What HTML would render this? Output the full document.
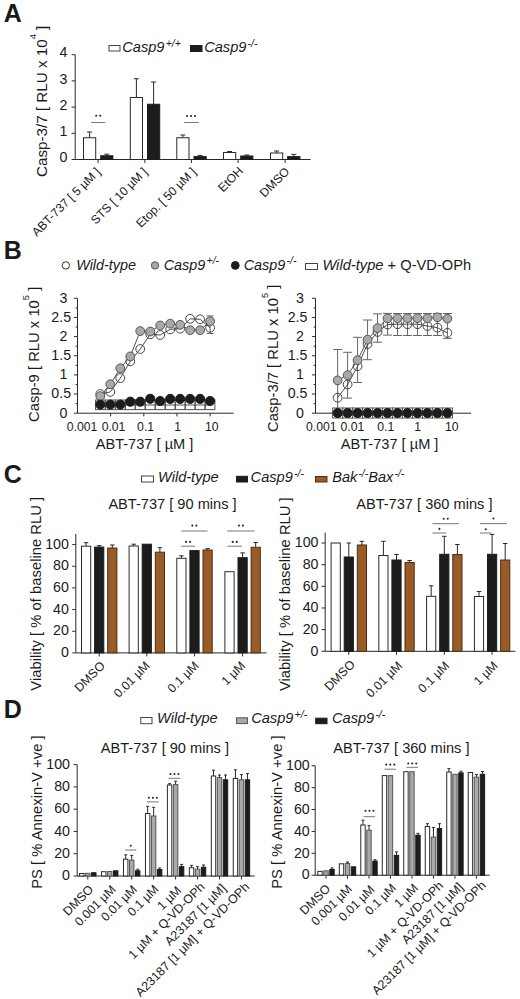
<!DOCTYPE html>
<html><head><meta charset="utf-8"><style>
html,body{margin:0;padding:0;background:#fff;}
svg{display:block;}
text{font-family:"Liberation Sans", sans-serif;fill:#1a1a1a;}
</style></head><body>
<svg width="520" height="999" viewBox="0 0 520 999">
<rect width="520" height="999" fill="#fff"/>
<text x="3.80" y="22.30" font-size="25" font-weight="bold" fill="#000">A</text>
<rect x="109.00" y="45.50" width="11.00" height="5.50" fill="#fff" stroke="#444" stroke-width="1"/>
<text x="122.30" y="52.00" font-size="14.6" font-style="italic">Casp9<tspan font-size="10.5" dx="1.2" dy="-5.5">+/+</tspan></text>
<rect x="190.50" y="45.50" width="11.50" height="6.00" fill="#1c1c1c" stroke="#1c1c1c" stroke-width="1"/>
<text x="204.20" y="52.00" font-size="14.6" font-style="italic">Casp9<tspan font-size="10.5" dx="1.2" dy="-5.5">-/-</tspan></text>
<line x1="75.20" y1="54.70" x2="75.20" y2="160.00" stroke="#2a2a2a" stroke-width="1"/>
<line x1="71.60" y1="159.50" x2="75.20" y2="159.50" stroke="#2a2a2a" stroke-width="1"/>
<text x="67.50" y="162.10" font-size="14.2" text-anchor="end">0</text>
<line x1="71.60" y1="133.30" x2="75.20" y2="133.30" stroke="#2a2a2a" stroke-width="1"/>
<text x="67.50" y="135.90" font-size="14.2" text-anchor="end">1</text>
<line x1="71.60" y1="107.10" x2="75.20" y2="107.10" stroke="#2a2a2a" stroke-width="1"/>
<text x="67.50" y="109.70" font-size="14.2" text-anchor="end">2</text>
<line x1="71.60" y1="80.90" x2="75.20" y2="80.90" stroke="#2a2a2a" stroke-width="1"/>
<text x="67.50" y="83.50" font-size="14.2" text-anchor="end">3</text>
<line x1="71.60" y1="54.70" x2="75.20" y2="54.70" stroke="#2a2a2a" stroke-width="1"/>
<text x="67.50" y="57.30" font-size="14.2" text-anchor="end">4</text>
<line x1="75.20" y1="159.50" x2="310.60" y2="159.50" stroke="#2a2a2a" stroke-width="1"/>
<line x1="98.10" y1="159.50" x2="98.10" y2="163.00" stroke="#2a2a2a" stroke-width="1"/>
<line x1="144.90" y1="159.50" x2="144.90" y2="163.00" stroke="#2a2a2a" stroke-width="1"/>
<line x1="191.40" y1="159.50" x2="191.40" y2="163.00" stroke="#2a2a2a" stroke-width="1"/>
<line x1="238.10" y1="159.50" x2="238.10" y2="163.00" stroke="#2a2a2a" stroke-width="1"/>
<line x1="285.10" y1="159.50" x2="285.10" y2="163.00" stroke="#2a2a2a" stroke-width="1"/>
<line x1="89.60" y1="137.75" x2="89.60" y2="132.00" stroke="#2a2a2a" stroke-width="1"/>
<line x1="87.10" y1="132.00" x2="92.10" y2="132.00" stroke="#2a2a2a" stroke-width="1"/>
<rect x="83.50" y="137.75" width="12.20" height="21.75" fill="#fff" stroke="#2a2a2a" stroke-width="1"/>
<line x1="106.80" y1="155.75" x2="106.80" y2="154.20" stroke="#2a2a2a" stroke-width="1"/>
<line x1="104.30" y1="154.20" x2="109.30" y2="154.20" stroke="#2a2a2a" stroke-width="1"/>
<rect x="100.70" y="155.75" width="12.20" height="3.75" fill="#1c1c1c" stroke="#1c1c1c" stroke-width="1"/>
<line x1="136.40" y1="97.50" x2="136.40" y2="78.75" stroke="#2a2a2a" stroke-width="1"/>
<line x1="133.90" y1="78.75" x2="138.90" y2="78.75" stroke="#2a2a2a" stroke-width="1"/>
<rect x="130.30" y="97.50" width="12.20" height="62.00" fill="#fff" stroke="#2a2a2a" stroke-width="1"/>
<line x1="153.60" y1="104.25" x2="153.60" y2="82.00" stroke="#2a2a2a" stroke-width="1"/>
<line x1="151.10" y1="82.00" x2="156.10" y2="82.00" stroke="#2a2a2a" stroke-width="1"/>
<rect x="147.50" y="104.25" width="12.20" height="55.25" fill="#1c1c1c" stroke="#1c1c1c" stroke-width="1"/>
<line x1="182.90" y1="137.75" x2="182.90" y2="135.00" stroke="#2a2a2a" stroke-width="1"/>
<line x1="180.40" y1="135.00" x2="185.40" y2="135.00" stroke="#2a2a2a" stroke-width="1"/>
<rect x="176.80" y="137.75" width="12.20" height="21.75" fill="#fff" stroke="#2a2a2a" stroke-width="1"/>
<line x1="200.10" y1="156.60" x2="200.10" y2="155.40" stroke="#2a2a2a" stroke-width="1"/>
<line x1="197.60" y1="155.40" x2="202.60" y2="155.40" stroke="#2a2a2a" stroke-width="1"/>
<rect x="194.00" y="156.60" width="12.20" height="2.90" fill="#1c1c1c" stroke="#1c1c1c" stroke-width="1"/>
<line x1="229.60" y1="152.50" x2="229.60" y2="151.50" stroke="#2a2a2a" stroke-width="1"/>
<line x1="227.10" y1="151.50" x2="232.10" y2="151.50" stroke="#2a2a2a" stroke-width="1"/>
<rect x="223.50" y="152.50" width="12.20" height="7.00" fill="#fff" stroke="#2a2a2a" stroke-width="1"/>
<line x1="246.80" y1="156.00" x2="246.80" y2="155.00" stroke="#2a2a2a" stroke-width="1"/>
<line x1="244.30" y1="155.00" x2="249.30" y2="155.00" stroke="#2a2a2a" stroke-width="1"/>
<rect x="240.70" y="156.00" width="12.20" height="3.50" fill="#1c1c1c" stroke="#1c1c1c" stroke-width="1"/>
<line x1="276.60" y1="153.00" x2="276.60" y2="151.00" stroke="#2a2a2a" stroke-width="1"/>
<line x1="274.10" y1="151.00" x2="279.10" y2="151.00" stroke="#2a2a2a" stroke-width="1"/>
<rect x="270.50" y="153.00" width="12.20" height="6.50" fill="#fff" stroke="#2a2a2a" stroke-width="1"/>
<line x1="293.80" y1="156.60" x2="293.80" y2="154.40" stroke="#2a2a2a" stroke-width="1"/>
<line x1="291.30" y1="154.40" x2="296.30" y2="154.40" stroke="#2a2a2a" stroke-width="1"/>
<rect x="287.70" y="156.60" width="12.20" height="2.90" fill="#1c1c1c" stroke="#1c1c1c" stroke-width="1"/>
<line x1="91.20" y1="122.50" x2="105.40" y2="122.50" stroke="#777" stroke-width="1"/>
<circle cx="96.20" cy="115.70" r="1.05" fill="#2a2a2a"/>
<circle cx="100.20" cy="115.70" r="1.05" fill="#2a2a2a"/>
<line x1="184.20" y1="122.50" x2="198.80" y2="122.50" stroke="#777" stroke-width="1"/>
<circle cx="187.00" cy="116.10" r="1.05" fill="#2a2a2a"/>
<circle cx="191.00" cy="116.10" r="1.05" fill="#2a2a2a"/>
<circle cx="195.00" cy="116.10" r="1.05" fill="#2a2a2a"/>
<text id="yl1" transform="translate(46.70 101.30) rotate(-90)" font-size="15.2" text-anchor="middle">Casp-3/7 [ RLU x 10<tspan font-size="9.4" dy="-10.3">4</tspan><tspan dy="10.3"> ]</tspan></text>
<text id="a0" x="101.04" y="172.54" font-size="12.1" text-anchor="end" transform="rotate(-45 101.04 172.54)">ABT-737 [ 5 µM ]</text>
<text id="a1" x="148.16" y="172.54" font-size="12.1" text-anchor="end" transform="rotate(-45 148.16 172.54)">STS [ 10 µM ]</text>
<text id="a2" x="196.90" y="172.54" font-size="12.1" text-anchor="end" transform="rotate(-45 196.90 172.54)">Etop. [ 50 µM ]</text>
<text id="a3" x="243.92" y="171.74" font-size="12.1" text-anchor="end" transform="rotate(-45 243.92 171.74)">EtOH</text>
<text id="a4" x="290.28" y="172.22" font-size="12.1" text-anchor="end" transform="rotate(-45 290.28 172.22)">DMSO</text>
<text x="3.80" y="259.10" font-size="25" font-weight="bold" fill="#000">B</text>
<circle cx="65.80" cy="265.40" r="3.7" fill="#fff" stroke="#333" stroke-width="1"/>
<text x="76.20" y="269.80" font-size="14.4" font-style="italic">Wild-type</text>
<circle cx="155.00" cy="265.40" r="3.7" fill="#a9a9a9" stroke="#555" stroke-width="1"/>
<text x="163.70" y="269.80" font-size="14.4" font-style="italic">Casp9<tspan font-size="10.5" dx="1.2" dy="-5.5">+/-</tspan></text>
<circle cx="235.30" cy="265.40" r="3.9" fill="#1c1c1c" stroke="#1c1c1c" stroke-width="1"/>
<text x="243.70" y="269.80" font-size="14.4" font-style="italic">Casp9<tspan font-size="10.5" dx="1.2" dy="-5.5">-/-</tspan></text>
<rect x="305.50" y="263.50" width="12.00" height="6.00" fill="#fff" stroke="#444" stroke-width="1"/>
<text x="322.4" y="269.8" font-size="14.7"><tspan font-style="italic">Wild-type</tspan> + Q-VD-OPh</text>
<line x1="77.50" y1="298.30" x2="77.50" y2="413.20" stroke="#2a2a2a" stroke-width="1"/>
<line x1="73.90" y1="413.20" x2="77.50" y2="413.20" stroke="#2a2a2a" stroke-width="1"/>
<text x="67.50" y="417.50" font-size="14.2" text-anchor="end">0</text>
<line x1="75.60" y1="403.62" x2="77.50" y2="403.62" stroke="#2a2a2a" stroke-width="1"/>
<line x1="73.90" y1="394.05" x2="77.50" y2="394.05" stroke="#2a2a2a" stroke-width="1"/>
<text x="71.10" y="398.35" font-size="14.2" text-anchor="end">0.5</text>
<line x1="75.60" y1="384.48" x2="77.50" y2="384.48" stroke="#2a2a2a" stroke-width="1"/>
<line x1="73.90" y1="374.90" x2="77.50" y2="374.90" stroke="#2a2a2a" stroke-width="1"/>
<text x="67.50" y="379.20" font-size="14.2" text-anchor="end">1</text>
<line x1="75.60" y1="365.32" x2="77.50" y2="365.32" stroke="#2a2a2a" stroke-width="1"/>
<line x1="73.90" y1="355.75" x2="77.50" y2="355.75" stroke="#2a2a2a" stroke-width="1"/>
<text x="71.10" y="360.05" font-size="14.2" text-anchor="end">1.5</text>
<line x1="75.60" y1="346.18" x2="77.50" y2="346.18" stroke="#2a2a2a" stroke-width="1"/>
<line x1="73.90" y1="336.60" x2="77.50" y2="336.60" stroke="#2a2a2a" stroke-width="1"/>
<text x="67.50" y="340.90" font-size="14.2" text-anchor="end">2</text>
<line x1="75.60" y1="327.02" x2="77.50" y2="327.02" stroke="#2a2a2a" stroke-width="1"/>
<line x1="73.90" y1="317.45" x2="77.50" y2="317.45" stroke="#2a2a2a" stroke-width="1"/>
<text x="71.10" y="321.75" font-size="14.2" text-anchor="end">2.5</text>
<line x1="75.60" y1="307.88" x2="77.50" y2="307.88" stroke="#2a2a2a" stroke-width="1"/>
<line x1="73.90" y1="298.30" x2="77.50" y2="298.30" stroke="#2a2a2a" stroke-width="1"/>
<text x="67.50" y="302.60" font-size="14.2" text-anchor="end">3</text>
<line x1="77.50" y1="413.20" x2="233.70" y2="413.20" stroke="#2a2a2a" stroke-width="1"/>
<line x1="110.65" y1="413.20" x2="110.65" y2="416.40" stroke="#2a2a2a" stroke-width="1"/>
<line x1="143.80" y1="413.20" x2="143.80" y2="416.40" stroke="#2a2a2a" stroke-width="1"/>
<line x1="176.95" y1="413.20" x2="176.95" y2="416.40" stroke="#2a2a2a" stroke-width="1"/>
<line x1="210.10" y1="413.20" x2="210.10" y2="416.40" stroke="#2a2a2a" stroke-width="1"/>
<text x="82.00" y="431.30" font-size="12.2" text-anchor="middle">0.001</text>
<text x="113.50" y="431.30" font-size="12.2" text-anchor="middle">0.01</text>
<text x="145.60" y="431.30" font-size="12.2" text-anchor="middle">0.1</text>
<text x="177.70" y="431.30" font-size="12.2" text-anchor="middle">1</text>
<text x="211.70" y="431.30" font-size="12.2" text-anchor="middle">10</text>
<text x="144.50" y="449.40" font-size="14.6" text-anchor="middle">ABT-737 [ µM ]</text>
<text id="yl2" transform="translate(39.10 354.30) rotate(-90)" font-size="14.8" text-anchor="middle">Casp-9 [ RLU x 10<tspan font-size="9.4" dy="-10.3">5</tspan><tspan dy="10.3"> ]</tspan></text>
<line x1="315.50" y1="298.30" x2="315.50" y2="413.20" stroke="#2a2a2a" stroke-width="1"/>
<line x1="311.90" y1="413.20" x2="315.50" y2="413.20" stroke="#2a2a2a" stroke-width="1"/>
<text x="303.80" y="417.50" font-size="14.2" text-anchor="end">0</text>
<line x1="313.60" y1="403.62" x2="315.50" y2="403.62" stroke="#2a2a2a" stroke-width="1"/>
<line x1="311.90" y1="394.05" x2="315.50" y2="394.05" stroke="#2a2a2a" stroke-width="1"/>
<text x="307.40" y="398.35" font-size="14.2" text-anchor="end">0.5</text>
<line x1="313.60" y1="384.48" x2="315.50" y2="384.48" stroke="#2a2a2a" stroke-width="1"/>
<line x1="311.90" y1="374.90" x2="315.50" y2="374.90" stroke="#2a2a2a" stroke-width="1"/>
<text x="303.80" y="379.20" font-size="14.2" text-anchor="end">1</text>
<line x1="313.60" y1="365.32" x2="315.50" y2="365.32" stroke="#2a2a2a" stroke-width="1"/>
<line x1="311.90" y1="355.75" x2="315.50" y2="355.75" stroke="#2a2a2a" stroke-width="1"/>
<text x="307.40" y="360.05" font-size="14.2" text-anchor="end">1.5</text>
<line x1="313.60" y1="346.18" x2="315.50" y2="346.18" stroke="#2a2a2a" stroke-width="1"/>
<line x1="311.90" y1="336.60" x2="315.50" y2="336.60" stroke="#2a2a2a" stroke-width="1"/>
<text x="303.80" y="340.90" font-size="14.2" text-anchor="end">2</text>
<line x1="313.60" y1="327.02" x2="315.50" y2="327.02" stroke="#2a2a2a" stroke-width="1"/>
<line x1="311.90" y1="317.45" x2="315.50" y2="317.45" stroke="#2a2a2a" stroke-width="1"/>
<text x="307.40" y="321.75" font-size="14.2" text-anchor="end">2.5</text>
<line x1="313.60" y1="307.88" x2="315.50" y2="307.88" stroke="#2a2a2a" stroke-width="1"/>
<line x1="311.90" y1="298.30" x2="315.50" y2="298.30" stroke="#2a2a2a" stroke-width="1"/>
<text x="303.80" y="302.60" font-size="14.2" text-anchor="end">3</text>
<line x1="315.50" y1="413.20" x2="471.00" y2="413.20" stroke="#2a2a2a" stroke-width="1"/>
<line x1="348.65" y1="413.20" x2="348.65" y2="416.40" stroke="#2a2a2a" stroke-width="1"/>
<line x1="381.80" y1="413.20" x2="381.80" y2="416.40" stroke="#2a2a2a" stroke-width="1"/>
<line x1="414.95" y1="413.20" x2="414.95" y2="416.40" stroke="#2a2a2a" stroke-width="1"/>
<line x1="448.10" y1="413.20" x2="448.10" y2="416.40" stroke="#2a2a2a" stroke-width="1"/>
<text x="321.30" y="431.30" font-size="12.2" text-anchor="middle">0.001</text>
<text x="352.40" y="431.30" font-size="12.2" text-anchor="middle">0.01</text>
<text x="385.70" y="431.30" font-size="12.2" text-anchor="middle">0.1</text>
<text x="417.70" y="431.30" font-size="12.2" text-anchor="middle">1</text>
<text x="451.70" y="431.30" font-size="12.2" text-anchor="middle">10</text>
<text x="389.60" y="449.40" font-size="14.6" text-anchor="middle">ABT-737 [ µM ]</text>
<text id="yl3" transform="translate(278.00 358.30) rotate(-90)" font-size="14.8" text-anchor="middle">Casp-3/7 [ RLU x 10<tspan font-size="9.4" dy="-10.3">5</tspan><tspan dy="10.3"> ]</tspan></text>
<rect x="205.30" y="400.00" width="9.60" height="9.60" fill="#fff" stroke="#555" stroke-width="1"/>
<rect x="195.32" y="400.00" width="9.60" height="9.60" fill="#fff" stroke="#555" stroke-width="1"/>
<rect x="185.34" y="400.00" width="9.60" height="9.60" fill="#fff" stroke="#555" stroke-width="1"/>
<rect x="175.36" y="400.00" width="9.60" height="9.60" fill="#fff" stroke="#555" stroke-width="1"/>
<rect x="165.38" y="400.00" width="9.60" height="9.60" fill="#fff" stroke="#555" stroke-width="1"/>
<rect x="155.40" y="400.00" width="9.60" height="9.60" fill="#fff" stroke="#555" stroke-width="1"/>
<rect x="145.43" y="400.00" width="9.60" height="9.60" fill="#fff" stroke="#555" stroke-width="1"/>
<rect x="135.45" y="400.00" width="9.60" height="9.60" fill="#fff" stroke="#555" stroke-width="1"/>
<rect x="125.47" y="400.00" width="9.60" height="9.60" fill="#fff" stroke="#555" stroke-width="1"/>
<rect x="115.49" y="400.00" width="9.60" height="9.60" fill="#fff" stroke="#555" stroke-width="1"/>
<rect x="105.51" y="400.00" width="9.60" height="9.60" fill="#fff" stroke="#555" stroke-width="1"/>
<rect x="95.53" y="400.00" width="9.60" height="9.60" fill="#fff" stroke="#555" stroke-width="1"/>
<polyline fill="none" stroke="#3a3a3a" stroke-width="0.9" points="210.1,405.0 200.1,405.0 190.1,405.0 180.2,405.0 170.2,405.0 160.2,405.0 150.2,405.0 140.2,405.0 130.3,405.0 120.3,405.0 110.3,405.0 100.3,405.0"/>
<line x1="210.10" y1="315.90" x2="210.10" y2="333.50" stroke="#666" stroke-width="1"/>
<line x1="206.60" y1="315.90" x2="213.60" y2="315.90" stroke="#666" stroke-width="1"/>
<line x1="206.60" y1="333.50" x2="213.60" y2="333.50" stroke="#666" stroke-width="1"/>
<polyline fill="none" stroke="#3a3a3a" stroke-width="0.9" points="210.1,327.8 200.1,319.3 190.1,318.8 180.2,328.6 170.2,329.4 160.2,335.0 150.2,334.3 140.2,349.0 130.3,361.3 120.3,378.1 110.3,391.9 100.3,394.0"/>
<polyline fill="none" stroke="#3a3a3a" stroke-width="0.9" points="210.1,321.2 200.1,330.2 190.1,330.2 180.2,324.8 170.2,323.7 160.2,325.5 150.2,331.5 140.2,331.1 130.3,356.4 120.3,368.3 110.3,384.2 100.3,396.1"/>
<circle cx="210.10" cy="327.80" r="4.4" fill="none" stroke="#444" stroke-width="1"/>
<circle cx="200.12" cy="319.30" r="4.4" fill="none" stroke="#444" stroke-width="1"/>
<circle cx="190.14" cy="318.80" r="4.4" fill="none" stroke="#444" stroke-width="1"/>
<circle cx="180.16" cy="328.60" r="4.4" fill="none" stroke="#444" stroke-width="1"/>
<circle cx="170.18" cy="329.40" r="4.4" fill="none" stroke="#444" stroke-width="1"/>
<circle cx="160.20" cy="335.00" r="4.4" fill="none" stroke="#444" stroke-width="1"/>
<circle cx="150.23" cy="334.30" r="4.4" fill="none" stroke="#444" stroke-width="1"/>
<circle cx="140.25" cy="349.00" r="4.4" fill="none" stroke="#444" stroke-width="1"/>
<circle cx="130.27" cy="361.30" r="4.4" fill="none" stroke="#444" stroke-width="1"/>
<circle cx="120.29" cy="378.10" r="4.4" fill="none" stroke="#444" stroke-width="1"/>
<circle cx="110.31" cy="391.90" r="4.4" fill="none" stroke="#444" stroke-width="1"/>
<circle cx="100.33" cy="394.00" r="4.4" fill="none" stroke="#444" stroke-width="1"/>
<circle cx="210.10" cy="321.20" r="4.4" fill="#a9a9a9" stroke="#555" stroke-width="1"/>
<circle cx="200.12" cy="330.20" r="4.4" fill="#a9a9a9" stroke="#555" stroke-width="1"/>
<circle cx="190.14" cy="330.20" r="4.4" fill="#a9a9a9" stroke="#555" stroke-width="1"/>
<circle cx="180.16" cy="324.80" r="4.4" fill="#a9a9a9" stroke="#555" stroke-width="1"/>
<circle cx="170.18" cy="323.70" r="4.4" fill="#a9a9a9" stroke="#555" stroke-width="1"/>
<circle cx="160.20" cy="325.50" r="4.4" fill="#a9a9a9" stroke="#555" stroke-width="1"/>
<circle cx="150.23" cy="331.50" r="4.4" fill="#a9a9a9" stroke="#555" stroke-width="1"/>
<circle cx="140.25" cy="331.10" r="4.4" fill="#a9a9a9" stroke="#555" stroke-width="1"/>
<circle cx="130.27" cy="356.40" r="4.4" fill="#a9a9a9" stroke="#555" stroke-width="1"/>
<circle cx="120.29" cy="368.30" r="4.4" fill="#a9a9a9" stroke="#555" stroke-width="1"/>
<circle cx="110.31" cy="384.20" r="4.4" fill="#a9a9a9" stroke="#555" stroke-width="1"/>
<circle cx="100.33" cy="396.10" r="4.4" fill="#a9a9a9" stroke="#555" stroke-width="1"/>
<circle cx="210.10" cy="401.00" r="4.6" fill="#1c1c1c" stroke="#1c1c1c" stroke-width="1"/>
<circle cx="200.12" cy="398.90" r="4.6" fill="#1c1c1c" stroke="#1c1c1c" stroke-width="1"/>
<circle cx="190.14" cy="398.90" r="4.6" fill="#1c1c1c" stroke="#1c1c1c" stroke-width="1"/>
<circle cx="180.16" cy="398.90" r="4.6" fill="#1c1c1c" stroke="#1c1c1c" stroke-width="1"/>
<circle cx="170.18" cy="398.90" r="4.6" fill="#1c1c1c" stroke="#1c1c1c" stroke-width="1"/>
<circle cx="160.20" cy="401.00" r="4.6" fill="#1c1c1c" stroke="#1c1c1c" stroke-width="1"/>
<circle cx="150.23" cy="398.80" r="4.6" fill="#1c1c1c" stroke="#1c1c1c" stroke-width="1"/>
<circle cx="140.25" cy="401.70" r="4.6" fill="#1c1c1c" stroke="#1c1c1c" stroke-width="1"/>
<circle cx="130.27" cy="401.70" r="4.6" fill="#1c1c1c" stroke="#1c1c1c" stroke-width="1"/>
<circle cx="120.29" cy="404.60" r="4.6" fill="#1c1c1c" stroke="#1c1c1c" stroke-width="1"/>
<circle cx="110.31" cy="404.60" r="4.6" fill="#1c1c1c" stroke="#1c1c1c" stroke-width="1"/>
<circle cx="100.33" cy="404.60" r="4.6" fill="#1c1c1c" stroke="#1c1c1c" stroke-width="1"/>
<line x1="447.40" y1="313.50" x2="447.40" y2="338.40" stroke="#666" stroke-width="1"/>
<line x1="442.90" y1="313.50" x2="451.90" y2="313.50" stroke="#666" stroke-width="1"/>
<line x1="442.90" y1="338.40" x2="451.90" y2="338.40" stroke="#666" stroke-width="1"/>
<line x1="437.42" y1="313.50" x2="437.42" y2="335.50" stroke="#666" stroke-width="1"/>
<line x1="432.92" y1="313.50" x2="441.92" y2="313.50" stroke="#666" stroke-width="1"/>
<line x1="432.92" y1="335.50" x2="441.92" y2="335.50" stroke="#666" stroke-width="1"/>
<line x1="427.44" y1="313.50" x2="427.44" y2="335.50" stroke="#666" stroke-width="1"/>
<line x1="422.94" y1="313.50" x2="431.94" y2="313.50" stroke="#666" stroke-width="1"/>
<line x1="422.94" y1="335.50" x2="431.94" y2="335.50" stroke="#666" stroke-width="1"/>
<line x1="417.46" y1="313.50" x2="417.46" y2="335.50" stroke="#666" stroke-width="1"/>
<line x1="412.96" y1="313.50" x2="421.96" y2="313.50" stroke="#666" stroke-width="1"/>
<line x1="412.96" y1="335.50" x2="421.96" y2="335.50" stroke="#666" stroke-width="1"/>
<line x1="407.48" y1="313.50" x2="407.48" y2="335.50" stroke="#666" stroke-width="1"/>
<line x1="402.98" y1="313.50" x2="411.98" y2="313.50" stroke="#666" stroke-width="1"/>
<line x1="402.98" y1="335.50" x2="411.98" y2="335.50" stroke="#666" stroke-width="1"/>
<line x1="397.50" y1="313.50" x2="397.50" y2="335.50" stroke="#666" stroke-width="1"/>
<line x1="393.00" y1="313.50" x2="402.00" y2="313.50" stroke="#666" stroke-width="1"/>
<line x1="393.00" y1="335.50" x2="402.00" y2="335.50" stroke="#666" stroke-width="1"/>
<line x1="387.53" y1="313.40" x2="387.53" y2="335.10" stroke="#666" stroke-width="1"/>
<line x1="383.03" y1="313.40" x2="392.03" y2="313.40" stroke="#666" stroke-width="1"/>
<line x1="383.03" y1="335.10" x2="392.03" y2="335.10" stroke="#666" stroke-width="1"/>
<line x1="377.55" y1="313.90" x2="377.55" y2="342.20" stroke="#666" stroke-width="1"/>
<line x1="373.05" y1="313.90" x2="382.05" y2="313.90" stroke="#666" stroke-width="1"/>
<line x1="373.05" y1="342.20" x2="382.05" y2="342.20" stroke="#666" stroke-width="1"/>
<line x1="367.57" y1="320.00" x2="367.57" y2="359.70" stroke="#666" stroke-width="1"/>
<line x1="363.07" y1="320.00" x2="372.07" y2="320.00" stroke="#666" stroke-width="1"/>
<line x1="363.07" y1="359.70" x2="372.07" y2="359.70" stroke="#666" stroke-width="1"/>
<line x1="357.59" y1="337.30" x2="357.59" y2="382.50" stroke="#666" stroke-width="1"/>
<line x1="353.09" y1="337.30" x2="362.09" y2="337.30" stroke="#666" stroke-width="1"/>
<line x1="353.09" y1="382.50" x2="362.09" y2="382.50" stroke="#666" stroke-width="1"/>
<line x1="347.61" y1="352.30" x2="347.61" y2="398.10" stroke="#666" stroke-width="1"/>
<line x1="343.11" y1="352.30" x2="352.11" y2="352.30" stroke="#666" stroke-width="1"/>
<line x1="343.11" y1="398.10" x2="352.11" y2="398.10" stroke="#666" stroke-width="1"/>
<line x1="337.63" y1="349.50" x2="337.63" y2="411.00" stroke="#666" stroke-width="1"/>
<line x1="333.13" y1="349.50" x2="342.13" y2="349.50" stroke="#666" stroke-width="1"/>
<line x1="333.13" y1="411.00" x2="342.13" y2="411.00" stroke="#666" stroke-width="1"/>
<rect x="442.40" y="408.00" width="10.00" height="10.00" fill="#fff" stroke="#555" stroke-width="1"/>
<rect x="432.42" y="408.00" width="10.00" height="10.00" fill="#fff" stroke="#555" stroke-width="1"/>
<rect x="422.44" y="408.00" width="10.00" height="10.00" fill="#fff" stroke="#555" stroke-width="1"/>
<rect x="412.46" y="408.00" width="10.00" height="10.00" fill="#fff" stroke="#555" stroke-width="1"/>
<rect x="402.48" y="408.00" width="10.00" height="10.00" fill="#fff" stroke="#555" stroke-width="1"/>
<rect x="392.50" y="408.00" width="10.00" height="10.00" fill="#fff" stroke="#555" stroke-width="1"/>
<rect x="382.53" y="408.00" width="10.00" height="10.00" fill="#fff" stroke="#555" stroke-width="1"/>
<rect x="372.55" y="408.00" width="10.00" height="10.00" fill="#fff" stroke="#555" stroke-width="1"/>
<rect x="362.57" y="408.00" width="10.00" height="10.00" fill="#fff" stroke="#555" stroke-width="1"/>
<rect x="352.59" y="408.00" width="10.00" height="10.00" fill="#fff" stroke="#555" stroke-width="1"/>
<rect x="342.61" y="408.00" width="10.00" height="10.00" fill="#fff" stroke="#555" stroke-width="1"/>
<rect x="332.63" y="408.00" width="10.00" height="10.00" fill="#fff" stroke="#555" stroke-width="1"/>
<polyline fill="none" stroke="#3a3a3a" stroke-width="0.9" points="447.4,332.9 437.4,327.7 427.4,326.0 417.5,324.2 407.5,324.2 397.5,324.2 387.5,324.5 377.5,331.9 367.6,344.1 357.6,366.2 347.6,384.5 337.6,397.7"/>
<polyline fill="none" stroke="#3a3a3a" stroke-width="0.9" points="447.4,318.7 437.4,317.3 427.4,318.2 417.5,318.2 407.5,318.2 397.5,318.2 387.5,318.3 377.5,328.1 367.6,339.7 357.6,360.2 347.6,375.2 337.6,380.4"/>
<circle cx="447.40" cy="332.90" r="4.4" fill="none" stroke="#444" stroke-width="1"/>
<circle cx="437.42" cy="327.70" r="4.4" fill="none" stroke="#444" stroke-width="1"/>
<circle cx="427.44" cy="326.00" r="4.4" fill="none" stroke="#444" stroke-width="1"/>
<circle cx="417.46" cy="324.20" r="4.4" fill="none" stroke="#444" stroke-width="1"/>
<circle cx="407.48" cy="324.20" r="4.4" fill="none" stroke="#444" stroke-width="1"/>
<circle cx="397.50" cy="324.20" r="4.4" fill="none" stroke="#444" stroke-width="1"/>
<circle cx="387.53" cy="324.50" r="4.4" fill="none" stroke="#444" stroke-width="1"/>
<circle cx="377.55" cy="331.90" r="4.4" fill="none" stroke="#444" stroke-width="1"/>
<circle cx="367.57" cy="344.10" r="4.4" fill="none" stroke="#444" stroke-width="1"/>
<circle cx="357.59" cy="366.20" r="4.4" fill="none" stroke="#444" stroke-width="1"/>
<circle cx="347.61" cy="384.50" r="4.4" fill="none" stroke="#444" stroke-width="1"/>
<circle cx="337.63" cy="397.70" r="4.4" fill="none" stroke="#444" stroke-width="1"/>
<circle cx="447.40" cy="318.70" r="4.4" fill="#a9a9a9" stroke="#555" stroke-width="1"/>
<circle cx="437.42" cy="317.30" r="4.4" fill="#a9a9a9" stroke="#555" stroke-width="1"/>
<circle cx="427.44" cy="318.20" r="4.4" fill="#a9a9a9" stroke="#555" stroke-width="1"/>
<circle cx="417.46" cy="318.20" r="4.4" fill="#a9a9a9" stroke="#555" stroke-width="1"/>
<circle cx="407.48" cy="318.20" r="4.4" fill="#a9a9a9" stroke="#555" stroke-width="1"/>
<circle cx="397.50" cy="318.20" r="4.4" fill="#a9a9a9" stroke="#555" stroke-width="1"/>
<circle cx="387.53" cy="318.30" r="4.4" fill="#a9a9a9" stroke="#555" stroke-width="1"/>
<circle cx="377.55" cy="328.10" r="4.4" fill="#a9a9a9" stroke="#555" stroke-width="1"/>
<circle cx="367.57" cy="339.70" r="4.4" fill="#a9a9a9" stroke="#555" stroke-width="1"/>
<circle cx="357.59" cy="360.20" r="4.4" fill="#a9a9a9" stroke="#555" stroke-width="1"/>
<circle cx="347.61" cy="375.20" r="4.4" fill="#a9a9a9" stroke="#555" stroke-width="1"/>
<circle cx="337.63" cy="380.40" r="4.4" fill="#a9a9a9" stroke="#555" stroke-width="1"/>
<circle cx="447.40" cy="413.00" r="4.6" fill="#1c1c1c" stroke="#1c1c1c" stroke-width="1"/>
<circle cx="437.42" cy="413.00" r="4.6" fill="#1c1c1c" stroke="#1c1c1c" stroke-width="1"/>
<circle cx="427.44" cy="413.00" r="4.6" fill="#1c1c1c" stroke="#1c1c1c" stroke-width="1"/>
<circle cx="417.46" cy="413.00" r="4.6" fill="#1c1c1c" stroke="#1c1c1c" stroke-width="1"/>
<circle cx="407.48" cy="413.00" r="4.6" fill="#1c1c1c" stroke="#1c1c1c" stroke-width="1"/>
<circle cx="397.50" cy="413.00" r="4.6" fill="#1c1c1c" stroke="#1c1c1c" stroke-width="1"/>
<circle cx="387.53" cy="413.00" r="4.6" fill="#1c1c1c" stroke="#1c1c1c" stroke-width="1"/>
<circle cx="377.55" cy="413.00" r="4.6" fill="#1c1c1c" stroke="#1c1c1c" stroke-width="1"/>
<circle cx="367.57" cy="413.00" r="4.6" fill="#1c1c1c" stroke="#1c1c1c" stroke-width="1"/>
<circle cx="357.59" cy="413.00" r="4.6" fill="#1c1c1c" stroke="#1c1c1c" stroke-width="1"/>
<circle cx="347.61" cy="413.00" r="4.6" fill="#1c1c1c" stroke="#1c1c1c" stroke-width="1"/>
<circle cx="337.63" cy="413.00" r="4.6" fill="#1c1c1c" stroke="#1c1c1c" stroke-width="1"/>
<text x="3.80" y="483.20" font-size="25" font-weight="bold" fill="#000">C</text>
<rect x="141.50" y="476.00" width="12.00" height="6.00" fill="#fff" stroke="#444" stroke-width="1"/>
<text x="158.00" y="482.20" font-size="14.6" font-style="italic">Wild-type</text>
<rect x="236.50" y="476.30" width="11.00" height="5.70" fill="#1c1c1c" stroke="#1c1c1c" stroke-width="1"/>
<text x="250.60" y="482.20" font-size="14.6" font-style="italic">Casp9<tspan font-size="10.5" dx="1.2" dy="-5.5">-/-</tspan></text>
<rect x="315.50" y="476.50" width="11.50" height="5.50" fill="#9b5b27" stroke="#4f2d12" stroke-width="1"/>
<text x="332.2" y="482.2" font-size="14.6" font-style="italic">Bak<tspan font-size="10.5" dx="1" dy="-5.5">-/-</tspan><tspan dy="5.5">Bax</tspan><tspan font-size="10.5" dx="1" dy="-5.5">-/-</tspan></text>
<line x1="75.80" y1="534.00" x2="75.80" y2="652.90" stroke="#2a2a2a" stroke-width="1"/>
<line x1="72.20" y1="652.90" x2="75.80" y2="652.90" stroke="#2a2a2a" stroke-width="1"/>
<text x="68.90" y="657.10" font-size="14.2" text-anchor="end">0</text>
<line x1="72.20" y1="631.24" x2="75.80" y2="631.24" stroke="#2a2a2a" stroke-width="1"/>
<text x="68.90" y="635.44" font-size="14.2" text-anchor="end">20</text>
<line x1="72.20" y1="609.58" x2="75.80" y2="609.58" stroke="#2a2a2a" stroke-width="1"/>
<text x="68.90" y="613.78" font-size="14.2" text-anchor="end">40</text>
<line x1="72.20" y1="587.92" x2="75.80" y2="587.92" stroke="#2a2a2a" stroke-width="1"/>
<text x="68.90" y="592.12" font-size="14.2" text-anchor="end">60</text>
<line x1="72.20" y1="566.26" x2="75.80" y2="566.26" stroke="#2a2a2a" stroke-width="1"/>
<text x="68.90" y="570.46" font-size="14.2" text-anchor="end">80</text>
<line x1="72.20" y1="544.60" x2="75.80" y2="544.60" stroke="#2a2a2a" stroke-width="1"/>
<text x="68.90" y="548.80" font-size="14.2" text-anchor="end">100</text>
<line x1="75.80" y1="652.90" x2="266.50" y2="652.90" stroke="#2a2a2a" stroke-width="1"/>
<line x1="99.20" y1="652.90" x2="99.20" y2="656.40" stroke="#2a2a2a" stroke-width="1"/>
<line x1="146.80" y1="652.90" x2="146.80" y2="656.40" stroke="#2a2a2a" stroke-width="1"/>
<line x1="194.50" y1="652.90" x2="194.50" y2="656.40" stroke="#2a2a2a" stroke-width="1"/>
<line x1="242.60" y1="652.90" x2="242.60" y2="656.40" stroke="#2a2a2a" stroke-width="1"/>
<text x="108.40" y="509.20" font-size="14.6">ABT-737 [ 90 mins ]</text>
<text id="yl4" transform="translate(40.90 593.80) rotate(-90)" font-size="14.8" text-anchor="middle">Viability [ % of baseline RLU ]</text>
<line x1="86.10" y1="546.20" x2="86.10" y2="542.70" stroke="#2a2a2a" stroke-width="1"/>
<line x1="83.85" y1="542.70" x2="88.35" y2="542.70" stroke="#2a2a2a" stroke-width="1"/>
<rect x="81.50" y="546.20" width="9.20" height="106.70" fill="#fff" stroke="#2a2a2a" stroke-width="1"/>
<line x1="99.20" y1="547.10" x2="99.20" y2="545.60" stroke="#2a2a2a" stroke-width="1"/>
<line x1="96.95" y1="545.60" x2="101.45" y2="545.60" stroke="#2a2a2a" stroke-width="1"/>
<rect x="94.60" y="547.10" width="9.20" height="105.80" fill="#1c1c1c" stroke="#1c1c1c" stroke-width="1"/>
<line x1="112.30" y1="548.00" x2="112.30" y2="545.00" stroke="#2a2a2a" stroke-width="1"/>
<line x1="110.05" y1="545.00" x2="114.55" y2="545.00" stroke="#2a2a2a" stroke-width="1"/>
<rect x="107.70" y="548.00" width="9.20" height="104.90" fill="#9b5b27" stroke="#4f2d12" stroke-width="1"/>
<line x1="133.70" y1="546.00" x2="133.70" y2="544.20" stroke="#2a2a2a" stroke-width="1"/>
<line x1="131.45" y1="544.20" x2="135.95" y2="544.20" stroke="#2a2a2a" stroke-width="1"/>
<rect x="129.10" y="546.00" width="9.20" height="106.90" fill="#fff" stroke="#2a2a2a" stroke-width="1"/>
<rect x="142.20" y="544.20" width="9.20" height="108.70" fill="#1c1c1c" stroke="#1c1c1c" stroke-width="1"/>
<line x1="159.90" y1="552.20" x2="159.90" y2="547.70" stroke="#2a2a2a" stroke-width="1"/>
<line x1="157.65" y1="547.70" x2="162.15" y2="547.70" stroke="#2a2a2a" stroke-width="1"/>
<rect x="155.30" y="552.20" width="9.20" height="100.70" fill="#9b5b27" stroke="#4f2d12" stroke-width="1"/>
<line x1="181.40" y1="558.30" x2="181.40" y2="555.80" stroke="#2a2a2a" stroke-width="1"/>
<line x1="179.15" y1="555.80" x2="183.65" y2="555.80" stroke="#2a2a2a" stroke-width="1"/>
<rect x="176.80" y="558.30" width="9.20" height="94.60" fill="#fff" stroke="#2a2a2a" stroke-width="1"/>
<rect x="189.90" y="550.60" width="9.20" height="102.30" fill="#1c1c1c" stroke="#1c1c1c" stroke-width="1"/>
<line x1="207.60" y1="550.00" x2="207.60" y2="548.70" stroke="#2a2a2a" stroke-width="1"/>
<line x1="205.35" y1="548.70" x2="209.85" y2="548.70" stroke="#2a2a2a" stroke-width="1"/>
<rect x="203.00" y="550.00" width="9.20" height="102.90" fill="#9b5b27" stroke="#4f2d12" stroke-width="1"/>
<rect x="224.90" y="571.70" width="9.20" height="81.20" fill="#fff" stroke="#2a2a2a" stroke-width="1"/>
<line x1="242.60" y1="557.70" x2="242.60" y2="552.90" stroke="#2a2a2a" stroke-width="1"/>
<line x1="240.35" y1="552.90" x2="244.85" y2="552.90" stroke="#2a2a2a" stroke-width="1"/>
<rect x="238.00" y="557.70" width="9.20" height="95.20" fill="#1c1c1c" stroke="#1c1c1c" stroke-width="1"/>
<line x1="255.70" y1="547.30" x2="255.70" y2="542.50" stroke="#2a2a2a" stroke-width="1"/>
<line x1="253.45" y1="542.50" x2="257.95" y2="542.50" stroke="#2a2a2a" stroke-width="1"/>
<rect x="251.10" y="547.30" width="9.20" height="105.60" fill="#9b5b27" stroke="#4f2d12" stroke-width="1"/>
<line x1="181.20" y1="546.20" x2="195.00" y2="546.20" stroke="#777" stroke-width="1"/>
<circle cx="186.10" cy="541.90" r="1.05" fill="#2a2a2a"/>
<circle cx="190.10" cy="541.90" r="1.05" fill="#2a2a2a"/>
<line x1="181.20" y1="531.00" x2="207.50" y2="531.00" stroke="#777" stroke-width="1"/>
<circle cx="192.35" cy="525.60" r="1.05" fill="#2a2a2a"/>
<circle cx="196.35" cy="525.60" r="1.05" fill="#2a2a2a"/>
<line x1="227.30" y1="546.20" x2="242.10" y2="546.20" stroke="#777" stroke-width="1"/>
<circle cx="232.70" cy="541.90" r="1.05" fill="#2a2a2a"/>
<circle cx="236.70" cy="541.90" r="1.05" fill="#2a2a2a"/>
<line x1="227.30" y1="531.00" x2="254.60" y2="531.00" stroke="#777" stroke-width="1"/>
<circle cx="238.95" cy="525.60" r="1.05" fill="#2a2a2a"/>
<circle cx="242.95" cy="525.60" r="1.05" fill="#2a2a2a"/>
<text id="cl0" x="105.80" y="666.46" font-size="12.4" text-anchor="end" transform="rotate(-45 105.80 666.46)">DMSO</text>
<text id="cl1" x="150.68" y="666.46" font-size="12.4" text-anchor="end" transform="rotate(-45 150.68 666.46)">0.01 µM</text>
<text id="cl2" x="199.50" y="666.46" font-size="12.4" text-anchor="end" transform="rotate(-45 199.50 666.46)">0.1 µM</text>
<text id="cl3" x="246.16" y="666.46" font-size="12.4" text-anchor="end" transform="rotate(-45 246.16 666.46)">1 µM</text>
<line x1="325.20" y1="532.50" x2="325.20" y2="651.30" stroke="#2a2a2a" stroke-width="1"/>
<line x1="321.60" y1="651.30" x2="325.20" y2="651.30" stroke="#2a2a2a" stroke-width="1"/>
<text x="318.50" y="655.50" font-size="14.2" text-anchor="end">0</text>
<line x1="321.60" y1="629.64" x2="325.20" y2="629.64" stroke="#2a2a2a" stroke-width="1"/>
<text x="318.50" y="633.84" font-size="14.2" text-anchor="end">20</text>
<line x1="321.60" y1="607.98" x2="325.20" y2="607.98" stroke="#2a2a2a" stroke-width="1"/>
<text x="318.50" y="612.18" font-size="14.2" text-anchor="end">40</text>
<line x1="321.60" y1="586.32" x2="325.20" y2="586.32" stroke="#2a2a2a" stroke-width="1"/>
<text x="318.50" y="590.52" font-size="14.2" text-anchor="end">60</text>
<line x1="321.60" y1="564.66" x2="325.20" y2="564.66" stroke="#2a2a2a" stroke-width="1"/>
<text x="318.50" y="568.86" font-size="14.2" text-anchor="end">80</text>
<line x1="321.60" y1="543.00" x2="325.20" y2="543.00" stroke="#2a2a2a" stroke-width="1"/>
<text x="318.50" y="547.20" font-size="14.2" text-anchor="end">100</text>
<line x1="325.20" y1="651.30" x2="515.40" y2="651.30" stroke="#2a2a2a" stroke-width="1"/>
<line x1="348.80" y1="651.30" x2="348.80" y2="654.80" stroke="#2a2a2a" stroke-width="1"/>
<line x1="396.50" y1="651.30" x2="396.50" y2="654.80" stroke="#2a2a2a" stroke-width="1"/>
<line x1="444.30" y1="651.30" x2="444.30" y2="654.80" stroke="#2a2a2a" stroke-width="1"/>
<line x1="492.10" y1="651.30" x2="492.10" y2="654.80" stroke="#2a2a2a" stroke-width="1"/>
<text x="356.20" y="509.20" font-size="14.6">ABT-737 [ 360 mins ]</text>
<text id="yl5" transform="translate(289.90 594.20) rotate(-90)" font-size="14.8" text-anchor="middle">Viability [ % of baseline RLU ]</text>
<rect x="331.10" y="543.00" width="9.20" height="108.30" fill="#fff" stroke="#2a2a2a" stroke-width="1"/>
<line x1="348.80" y1="557.00" x2="348.80" y2="543.00" stroke="#2a2a2a" stroke-width="1"/>
<line x1="346.55" y1="543.00" x2="351.05" y2="543.00" stroke="#2a2a2a" stroke-width="1"/>
<rect x="344.20" y="557.00" width="9.20" height="94.30" fill="#1c1c1c" stroke="#1c1c1c" stroke-width="1"/>
<line x1="361.90" y1="545.00" x2="361.90" y2="541.30" stroke="#2a2a2a" stroke-width="1"/>
<line x1="359.65" y1="541.30" x2="364.15" y2="541.30" stroke="#2a2a2a" stroke-width="1"/>
<rect x="357.30" y="545.00" width="9.20" height="106.30" fill="#9b5b27" stroke="#4f2d12" stroke-width="1"/>
<line x1="383.40" y1="555.50" x2="383.40" y2="541.30" stroke="#2a2a2a" stroke-width="1"/>
<line x1="381.15" y1="541.30" x2="385.65" y2="541.30" stroke="#2a2a2a" stroke-width="1"/>
<rect x="378.80" y="555.50" width="9.20" height="95.80" fill="#fff" stroke="#2a2a2a" stroke-width="1"/>
<line x1="396.50" y1="560.00" x2="396.50" y2="554.50" stroke="#2a2a2a" stroke-width="1"/>
<line x1="394.25" y1="554.50" x2="398.75" y2="554.50" stroke="#2a2a2a" stroke-width="1"/>
<rect x="391.90" y="560.00" width="9.20" height="91.30" fill="#1c1c1c" stroke="#1c1c1c" stroke-width="1"/>
<line x1="409.60" y1="562.50" x2="409.60" y2="560.50" stroke="#2a2a2a" stroke-width="1"/>
<line x1="407.35" y1="560.50" x2="411.85" y2="560.50" stroke="#2a2a2a" stroke-width="1"/>
<rect x="405.00" y="562.50" width="9.20" height="88.80" fill="#9b5b27" stroke="#4f2d12" stroke-width="1"/>
<line x1="431.20" y1="596.30" x2="431.20" y2="585.80" stroke="#2a2a2a" stroke-width="1"/>
<line x1="428.95" y1="585.80" x2="433.45" y2="585.80" stroke="#2a2a2a" stroke-width="1"/>
<rect x="426.60" y="596.30" width="9.20" height="55.00" fill="#fff" stroke="#2a2a2a" stroke-width="1"/>
<line x1="444.30" y1="554.30" x2="444.30" y2="536.30" stroke="#2a2a2a" stroke-width="1"/>
<line x1="442.05" y1="536.30" x2="446.55" y2="536.30" stroke="#2a2a2a" stroke-width="1"/>
<rect x="439.70" y="554.30" width="9.20" height="97.00" fill="#1c1c1c" stroke="#1c1c1c" stroke-width="1"/>
<line x1="457.40" y1="554.50" x2="457.40" y2="544.50" stroke="#2a2a2a" stroke-width="1"/>
<line x1="455.15" y1="544.50" x2="459.65" y2="544.50" stroke="#2a2a2a" stroke-width="1"/>
<rect x="452.80" y="554.50" width="9.20" height="96.80" fill="#9b5b27" stroke="#4f2d12" stroke-width="1"/>
<line x1="479.00" y1="596.50" x2="479.00" y2="591.50" stroke="#2a2a2a" stroke-width="1"/>
<line x1="476.75" y1="591.50" x2="481.25" y2="591.50" stroke="#2a2a2a" stroke-width="1"/>
<rect x="474.40" y="596.50" width="9.20" height="54.80" fill="#fff" stroke="#2a2a2a" stroke-width="1"/>
<line x1="492.10" y1="554.30" x2="492.10" y2="534.40" stroke="#2a2a2a" stroke-width="1"/>
<line x1="489.85" y1="534.40" x2="494.35" y2="534.40" stroke="#2a2a2a" stroke-width="1"/>
<rect x="487.50" y="554.30" width="9.20" height="97.00" fill="#1c1c1c" stroke="#1c1c1c" stroke-width="1"/>
<line x1="505.20" y1="560.00" x2="505.20" y2="543.50" stroke="#2a2a2a" stroke-width="1"/>
<line x1="502.95" y1="543.50" x2="507.45" y2="543.50" stroke="#2a2a2a" stroke-width="1"/>
<rect x="500.60" y="560.00" width="9.20" height="91.30" fill="#9b5b27" stroke="#4f2d12" stroke-width="1"/>
<line x1="432.50" y1="533.00" x2="446.30" y2="533.00" stroke="#777" stroke-width="1"/>
<circle cx="439.40" cy="528.90" r="1.05" fill="#2a2a2a"/>
<line x1="432.50" y1="523.70" x2="458.90" y2="523.70" stroke="#777" stroke-width="1"/>
<circle cx="443.70" cy="518.80" r="1.05" fill="#2a2a2a"/>
<circle cx="447.70" cy="518.80" r="1.05" fill="#2a2a2a"/>
<line x1="480.00" y1="533.00" x2="491.50" y2="533.00" stroke="#777" stroke-width="1"/>
<circle cx="485.75" cy="529.20" r="1.05" fill="#2a2a2a"/>
<line x1="480.00" y1="523.60" x2="506.90" y2="523.60" stroke="#777" stroke-width="1"/>
<circle cx="493.45" cy="518.50" r="1.05" fill="#2a2a2a"/>
<text id="cr0" x="355.72" y="665.18" font-size="12.4" text-anchor="end" transform="rotate(-45 355.72 665.18)">DMSO</text>
<text id="cr1" x="402.94" y="666.46" font-size="12.4" text-anchor="end" transform="rotate(-45 402.94 666.46)">0.01 µM</text>
<text id="cr2" x="450.10" y="666.46" font-size="12.4" text-anchor="end" transform="rotate(-45 450.10 666.46)">0.1 µM</text>
<text id="cr3" x="498.54" y="666.46" font-size="12.4" text-anchor="end" transform="rotate(-45 498.54 666.46)">1 µM</text>
<text x="3.80" y="718.00" font-size="25" font-weight="bold" fill="#000">D</text>
<rect x="140.80" y="717.50" width="11.20" height="6.20" fill="#fff" stroke="#444" stroke-width="1"/>
<text x="157.00" y="723.20" font-size="14.6" font-style="italic">Wild-type</text>
<rect x="236.50" y="717.80" width="11.00" height="5.80" fill="#a9a9a9" stroke="#555" stroke-width="1"/>
<text x="251.20" y="723.20" font-size="14.6" font-style="italic">Casp9<tspan font-size="10.5" dx="1.2" dy="-5.5">+/-</tspan></text>
<rect x="315.70" y="718.20" width="11.30" height="5.50" fill="#1c1c1c" stroke="#1c1c1c" stroke-width="1"/>
<text x="332.00" y="723.20" font-size="14.6" font-style="italic">Casp9<tspan font-size="10.5" dx="1.2" dy="-5.5">-/-</tspan></text>
<line x1="77.20" y1="764.60" x2="77.20" y2="876.00" stroke="#2a2a2a" stroke-width="1"/>
<line x1="73.60" y1="876.00" x2="77.20" y2="876.00" stroke="#2a2a2a" stroke-width="1"/>
<text x="70.00" y="880.20" font-size="14.2" text-anchor="end">0</text>
<line x1="73.60" y1="853.72" x2="77.20" y2="853.72" stroke="#2a2a2a" stroke-width="1"/>
<text x="70.00" y="857.92" font-size="14.2" text-anchor="end">20</text>
<line x1="73.60" y1="831.44" x2="77.20" y2="831.44" stroke="#2a2a2a" stroke-width="1"/>
<text x="70.00" y="835.64" font-size="14.2" text-anchor="end">40</text>
<line x1="73.60" y1="809.16" x2="77.20" y2="809.16" stroke="#2a2a2a" stroke-width="1"/>
<text x="70.00" y="813.36" font-size="14.2" text-anchor="end">60</text>
<line x1="73.60" y1="786.88" x2="77.20" y2="786.88" stroke="#2a2a2a" stroke-width="1"/>
<text x="70.00" y="791.08" font-size="14.2" text-anchor="end">80</text>
<line x1="73.60" y1="764.60" x2="77.20" y2="764.60" stroke="#2a2a2a" stroke-width="1"/>
<text x="70.00" y="768.80" font-size="14.2" text-anchor="end">100</text>
<line x1="77.20" y1="876.00" x2="254.70" y2="876.00" stroke="#2a2a2a" stroke-width="1"/>
<line x1="87.80" y1="876.00" x2="87.80" y2="879.50" stroke="#2a2a2a" stroke-width="1"/>
<line x1="109.75" y1="876.00" x2="109.75" y2="879.50" stroke="#2a2a2a" stroke-width="1"/>
<line x1="131.70" y1="876.00" x2="131.70" y2="879.50" stroke="#2a2a2a" stroke-width="1"/>
<line x1="153.65" y1="876.00" x2="153.65" y2="879.50" stroke="#2a2a2a" stroke-width="1"/>
<line x1="175.60" y1="876.00" x2="175.60" y2="879.50" stroke="#2a2a2a" stroke-width="1"/>
<line x1="197.55" y1="876.00" x2="197.55" y2="879.50" stroke="#2a2a2a" stroke-width="1"/>
<line x1="219.50" y1="876.00" x2="219.50" y2="879.50" stroke="#2a2a2a" stroke-width="1"/>
<line x1="241.45" y1="876.00" x2="241.45" y2="879.50" stroke="#2a2a2a" stroke-width="1"/>
<text x="100.80" y="752.90" font-size="14.6">ABT-737 [ 90 mins ]</text>
<text id="yl6" transform="translate(42.30 812.10) rotate(-90)" font-size="14.8" text-anchor="middle">PS [ % Annexin-V +ve ]</text>
<rect x="79.60" y="873.50" width="4.40" height="2.50" fill="#fff" stroke="#2a2a2a" stroke-width="1"/>
<rect x="85.60" y="873.30" width="4.40" height="2.70" fill="#a9a9a9" stroke="#555" stroke-width="1"/>
<rect x="91.60" y="872.70" width="4.40" height="3.30" fill="#1c1c1c" stroke="#1c1c1c" stroke-width="1"/>
<rect x="101.55" y="871.70" width="4.40" height="4.30" fill="#fff" stroke="#2a2a2a" stroke-width="1"/>
<rect x="107.55" y="871.50" width="4.40" height="4.50" fill="#a9a9a9" stroke="#555" stroke-width="1"/>
<rect x="113.55" y="870.80" width="4.40" height="5.20" fill="#1c1c1c" stroke="#1c1c1c" stroke-width="1"/>
<line x1="125.70" y1="859.20" x2="125.70" y2="854.80" stroke="#2a2a2a" stroke-width="1"/>
<line x1="124.20" y1="854.80" x2="127.20" y2="854.80" stroke="#2a2a2a" stroke-width="1"/>
<rect x="123.50" y="859.20" width="4.40" height="16.80" fill="#fff" stroke="#2a2a2a" stroke-width="1"/>
<line x1="131.70" y1="860.20" x2="131.70" y2="855.40" stroke="#2a2a2a" stroke-width="1"/>
<line x1="130.20" y1="855.40" x2="133.20" y2="855.40" stroke="#2a2a2a" stroke-width="1"/>
<rect x="129.50" y="860.20" width="4.40" height="15.80" fill="#a9a9a9" stroke="#555" stroke-width="1"/>
<line x1="137.70" y1="870.80" x2="137.70" y2="869.20" stroke="#2a2a2a" stroke-width="1"/>
<line x1="136.20" y1="869.20" x2="139.20" y2="869.20" stroke="#2a2a2a" stroke-width="1"/>
<rect x="135.50" y="870.80" width="4.40" height="5.20" fill="#1c1c1c" stroke="#1c1c1c" stroke-width="1"/>
<line x1="147.65" y1="813.50" x2="147.65" y2="806.30" stroke="#2a2a2a" stroke-width="1"/>
<line x1="146.15" y1="806.30" x2="149.15" y2="806.30" stroke="#2a2a2a" stroke-width="1"/>
<rect x="145.45" y="813.50" width="4.40" height="62.50" fill="#fff" stroke="#2a2a2a" stroke-width="1"/>
<line x1="153.65" y1="816.00" x2="153.65" y2="807.30" stroke="#2a2a2a" stroke-width="1"/>
<line x1="152.15" y1="807.30" x2="155.15" y2="807.30" stroke="#2a2a2a" stroke-width="1"/>
<rect x="151.45" y="816.00" width="4.40" height="60.00" fill="#a9a9a9" stroke="#555" stroke-width="1"/>
<line x1="159.65" y1="869.60" x2="159.65" y2="868.00" stroke="#2a2a2a" stroke-width="1"/>
<line x1="158.15" y1="868.00" x2="161.15" y2="868.00" stroke="#2a2a2a" stroke-width="1"/>
<rect x="157.45" y="869.60" width="4.40" height="6.40" fill="#1c1c1c" stroke="#1c1c1c" stroke-width="1"/>
<line x1="169.60" y1="785.00" x2="169.60" y2="783.70" stroke="#2a2a2a" stroke-width="1"/>
<line x1="168.10" y1="783.70" x2="171.10" y2="783.70" stroke="#2a2a2a" stroke-width="1"/>
<rect x="167.40" y="785.00" width="4.40" height="91.00" fill="#fff" stroke="#2a2a2a" stroke-width="1"/>
<line x1="175.60" y1="784.60" x2="175.60" y2="781.20" stroke="#2a2a2a" stroke-width="1"/>
<line x1="174.10" y1="781.20" x2="177.10" y2="781.20" stroke="#2a2a2a" stroke-width="1"/>
<rect x="173.40" y="784.60" width="4.40" height="91.40" fill="#a9a9a9" stroke="#555" stroke-width="1"/>
<line x1="181.60" y1="866.70" x2="181.60" y2="864.40" stroke="#2a2a2a" stroke-width="1"/>
<line x1="180.10" y1="864.40" x2="183.10" y2="864.40" stroke="#2a2a2a" stroke-width="1"/>
<rect x="179.40" y="866.70" width="4.40" height="9.30" fill="#1c1c1c" stroke="#1c1c1c" stroke-width="1"/>
<line x1="191.55" y1="867.70" x2="191.55" y2="865.40" stroke="#2a2a2a" stroke-width="1"/>
<line x1="190.05" y1="865.40" x2="193.05" y2="865.40" stroke="#2a2a2a" stroke-width="1"/>
<rect x="189.35" y="867.70" width="4.40" height="8.30" fill="#fff" stroke="#2a2a2a" stroke-width="1"/>
<line x1="197.55" y1="869.20" x2="197.55" y2="866.70" stroke="#2a2a2a" stroke-width="1"/>
<line x1="196.05" y1="866.70" x2="199.05" y2="866.70" stroke="#2a2a2a" stroke-width="1"/>
<rect x="195.35" y="869.20" width="4.40" height="6.80" fill="#a9a9a9" stroke="#555" stroke-width="1"/>
<line x1="203.55" y1="867.30" x2="203.55" y2="865.00" stroke="#2a2a2a" stroke-width="1"/>
<line x1="202.05" y1="865.00" x2="205.05" y2="865.00" stroke="#2a2a2a" stroke-width="1"/>
<rect x="201.35" y="867.30" width="4.40" height="8.70" fill="#1c1c1c" stroke="#1c1c1c" stroke-width="1"/>
<line x1="213.50" y1="776.00" x2="213.50" y2="770.20" stroke="#2a2a2a" stroke-width="1"/>
<line x1="212.00" y1="770.20" x2="215.00" y2="770.20" stroke="#2a2a2a" stroke-width="1"/>
<rect x="211.30" y="776.00" width="4.40" height="100.00" fill="#fff" stroke="#2a2a2a" stroke-width="1"/>
<line x1="219.50" y1="777.50" x2="219.50" y2="775.00" stroke="#2a2a2a" stroke-width="1"/>
<line x1="218.00" y1="775.00" x2="221.00" y2="775.00" stroke="#2a2a2a" stroke-width="1"/>
<rect x="217.30" y="777.50" width="4.40" height="98.50" fill="#a9a9a9" stroke="#555" stroke-width="1"/>
<line x1="225.50" y1="779.80" x2="225.50" y2="775.00" stroke="#2a2a2a" stroke-width="1"/>
<line x1="224.00" y1="775.00" x2="227.00" y2="775.00" stroke="#2a2a2a" stroke-width="1"/>
<rect x="223.30" y="779.80" width="4.40" height="96.20" fill="#1c1c1c" stroke="#1c1c1c" stroke-width="1"/>
<line x1="235.45" y1="778.50" x2="235.45" y2="769.80" stroke="#2a2a2a" stroke-width="1"/>
<line x1="233.95" y1="769.80" x2="236.95" y2="769.80" stroke="#2a2a2a" stroke-width="1"/>
<rect x="233.25" y="778.50" width="4.40" height="97.50" fill="#fff" stroke="#2a2a2a" stroke-width="1"/>
<line x1="241.45" y1="779.80" x2="241.45" y2="774.60" stroke="#2a2a2a" stroke-width="1"/>
<line x1="239.95" y1="774.60" x2="242.95" y2="774.60" stroke="#2a2a2a" stroke-width="1"/>
<rect x="239.25" y="779.80" width="4.40" height="96.20" fill="#a9a9a9" stroke="#555" stroke-width="1"/>
<line x1="247.45" y1="779.80" x2="247.45" y2="773.50" stroke="#2a2a2a" stroke-width="1"/>
<line x1="245.95" y1="773.50" x2="248.95" y2="773.50" stroke="#2a2a2a" stroke-width="1"/>
<rect x="245.25" y="779.80" width="4.40" height="96.20" fill="#1c1c1c" stroke="#1c1c1c" stroke-width="1"/>
<line x1="125.20" y1="850.00" x2="136.30" y2="850.00" stroke="#777" stroke-width="1"/>
<circle cx="130.75" cy="845.80" r="1.05" fill="#2a2a2a"/>
<line x1="146.90" y1="801.90" x2="158.80" y2="801.90" stroke="#777" stroke-width="1"/>
<circle cx="148.85" cy="797.70" r="1.05" fill="#2a2a2a"/>
<circle cx="152.85" cy="797.70" r="1.05" fill="#2a2a2a"/>
<circle cx="156.85" cy="797.70" r="1.05" fill="#2a2a2a"/>
<line x1="168.50" y1="778.30" x2="180.40" y2="778.30" stroke="#777" stroke-width="1"/>
<circle cx="170.45" cy="774.00" r="1.05" fill="#2a2a2a"/>
<circle cx="174.45" cy="774.00" r="1.05" fill="#2a2a2a"/>
<circle cx="178.45" cy="774.00" r="1.05" fill="#2a2a2a"/>
<text id="dl0" x="94.20" y="890.10" font-size="12.4" text-anchor="end" transform="rotate(-45 94.20 890.10)">DMSO</text>
<text id="dl1" x="116.47" y="890.10" font-size="12.4" text-anchor="end" transform="rotate(-45 116.47 890.10)">0.001 µM</text>
<text id="dl2" x="137.78" y="890.10" font-size="12.4" text-anchor="end" transform="rotate(-45 137.78 890.10)">0.01 µM</text>
<text id="dl3" x="159.41" y="889.94" font-size="12.4" text-anchor="end" transform="rotate(-45 159.41 889.94)">0.1 µM</text>
<text id="dl4" x="182.00" y="891.22" font-size="12.4" text-anchor="end" transform="rotate(-45 182.00 891.22)">1 µM</text>
<text id="dl5" x="205.39" y="887.70" font-size="12.4" text-anchor="end" transform="rotate(-45 205.39 887.70)">1 µM + Q-VD-OPh</text>
<text id="dl6" x="226.86" y="889.14" font-size="12.4" text-anchor="end" transform="rotate(-45 226.86 889.14)">A23187 [1 µM]</text>
<text id="dl7" x="250.09" y="887.70" font-size="12.4" text-anchor="end" transform="rotate(-45 250.09 887.70)">A23187 [1 µM] + Q-VD-OPh</text>
<line x1="315.20" y1="765.80" x2="315.20" y2="875.20" stroke="#2a2a2a" stroke-width="1"/>
<line x1="311.60" y1="875.20" x2="315.20" y2="875.20" stroke="#2a2a2a" stroke-width="1"/>
<text x="309.70" y="879.40" font-size="14.2" text-anchor="end">0</text>
<line x1="311.60" y1="853.32" x2="315.20" y2="853.32" stroke="#2a2a2a" stroke-width="1"/>
<text x="309.70" y="857.52" font-size="14.2" text-anchor="end">20</text>
<line x1="311.60" y1="831.44" x2="315.20" y2="831.44" stroke="#2a2a2a" stroke-width="1"/>
<text x="309.70" y="835.64" font-size="14.2" text-anchor="end">40</text>
<line x1="311.60" y1="809.56" x2="315.20" y2="809.56" stroke="#2a2a2a" stroke-width="1"/>
<text x="309.70" y="813.76" font-size="14.2" text-anchor="end">60</text>
<line x1="311.60" y1="787.68" x2="315.20" y2="787.68" stroke="#2a2a2a" stroke-width="1"/>
<text x="309.70" y="791.88" font-size="14.2" text-anchor="end">80</text>
<line x1="311.60" y1="765.80" x2="315.20" y2="765.80" stroke="#2a2a2a" stroke-width="1"/>
<text x="309.70" y="770.00" font-size="14.2" text-anchor="end">100</text>
<line x1="315.20" y1="875.20" x2="489.70" y2="875.20" stroke="#2a2a2a" stroke-width="1"/>
<line x1="326.00" y1="875.20" x2="326.00" y2="878.70" stroke="#2a2a2a" stroke-width="1"/>
<line x1="347.49" y1="875.20" x2="347.49" y2="878.70" stroke="#2a2a2a" stroke-width="1"/>
<line x1="368.98" y1="875.20" x2="368.98" y2="878.70" stroke="#2a2a2a" stroke-width="1"/>
<line x1="390.47" y1="875.20" x2="390.47" y2="878.70" stroke="#2a2a2a" stroke-width="1"/>
<line x1="411.96" y1="875.20" x2="411.96" y2="878.70" stroke="#2a2a2a" stroke-width="1"/>
<line x1="433.45" y1="875.20" x2="433.45" y2="878.70" stroke="#2a2a2a" stroke-width="1"/>
<line x1="454.94" y1="875.20" x2="454.94" y2="878.70" stroke="#2a2a2a" stroke-width="1"/>
<line x1="476.43" y1="875.20" x2="476.43" y2="878.70" stroke="#2a2a2a" stroke-width="1"/>
<text x="333.20" y="752.90" font-size="14.6">ABT-737 [ 360 mins ]</text>
<text id="yl7" transform="translate(282.30 812.10) rotate(-90)" font-size="14.8" text-anchor="middle">PS [ % Annexin-V +ve ]</text>
<rect x="317.80" y="871.40" width="4.40" height="3.80" fill="#fff" stroke="#2a2a2a" stroke-width="1"/>
<rect x="323.80" y="870.80" width="4.40" height="4.40" fill="#a9a9a9" stroke="#555" stroke-width="1"/>
<line x1="332.00" y1="869.50" x2="332.00" y2="867.90" stroke="#2a2a2a" stroke-width="1"/>
<line x1="330.50" y1="867.90" x2="333.50" y2="867.90" stroke="#2a2a2a" stroke-width="1"/>
<rect x="329.80" y="869.50" width="4.40" height="5.70" fill="#1c1c1c" stroke="#1c1c1c" stroke-width="1"/>
<rect x="339.29" y="863.80" width="4.40" height="11.40" fill="#fff" stroke="#2a2a2a" stroke-width="1"/>
<line x1="347.49" y1="863.50" x2="347.49" y2="862.00" stroke="#2a2a2a" stroke-width="1"/>
<line x1="345.99" y1="862.00" x2="348.99" y2="862.00" stroke="#2a2a2a" stroke-width="1"/>
<rect x="345.29" y="863.50" width="4.40" height="11.70" fill="#a9a9a9" stroke="#555" stroke-width="1"/>
<rect x="351.29" y="866.80" width="4.40" height="8.40" fill="#1c1c1c" stroke="#1c1c1c" stroke-width="1"/>
<line x1="362.98" y1="825.00" x2="362.98" y2="820.20" stroke="#2a2a2a" stroke-width="1"/>
<line x1="361.48" y1="820.20" x2="364.48" y2="820.20" stroke="#2a2a2a" stroke-width="1"/>
<rect x="360.78" y="825.00" width="4.40" height="50.20" fill="#fff" stroke="#2a2a2a" stroke-width="1"/>
<line x1="368.98" y1="830.20" x2="368.98" y2="825.60" stroke="#2a2a2a" stroke-width="1"/>
<line x1="367.48" y1="825.60" x2="370.48" y2="825.60" stroke="#2a2a2a" stroke-width="1"/>
<rect x="366.78" y="830.20" width="4.40" height="45.00" fill="#a9a9a9" stroke="#555" stroke-width="1"/>
<line x1="374.98" y1="861.10" x2="374.98" y2="859.80" stroke="#2a2a2a" stroke-width="1"/>
<line x1="373.48" y1="859.80" x2="376.48" y2="859.80" stroke="#2a2a2a" stroke-width="1"/>
<rect x="372.78" y="861.10" width="4.40" height="14.10" fill="#1c1c1c" stroke="#1c1c1c" stroke-width="1"/>
<rect x="382.27" y="775.60" width="4.40" height="99.60" fill="#fff" stroke="#2a2a2a" stroke-width="1"/>
<rect x="388.27" y="775.60" width="4.40" height="99.60" fill="#a9a9a9" stroke="#555" stroke-width="1"/>
<line x1="396.47" y1="855.40" x2="396.47" y2="851.90" stroke="#2a2a2a" stroke-width="1"/>
<line x1="394.97" y1="851.90" x2="397.97" y2="851.90" stroke="#2a2a2a" stroke-width="1"/>
<rect x="394.27" y="855.40" width="4.40" height="19.80" fill="#1c1c1c" stroke="#1c1c1c" stroke-width="1"/>
<rect x="403.76" y="771.70" width="4.40" height="103.50" fill="#fff" stroke="#2a2a2a" stroke-width="1"/>
<rect x="409.76" y="771.70" width="4.40" height="103.50" fill="#a9a9a9" stroke="#555" stroke-width="1"/>
<line x1="417.96" y1="835.20" x2="417.96" y2="833.30" stroke="#2a2a2a" stroke-width="1"/>
<line x1="416.46" y1="833.30" x2="419.46" y2="833.30" stroke="#2a2a2a" stroke-width="1"/>
<rect x="415.76" y="835.20" width="4.40" height="40.00" fill="#1c1c1c" stroke="#1c1c1c" stroke-width="1"/>
<line x1="427.45" y1="826.50" x2="427.45" y2="823.70" stroke="#2a2a2a" stroke-width="1"/>
<line x1="425.95" y1="823.70" x2="428.95" y2="823.70" stroke="#2a2a2a" stroke-width="1"/>
<rect x="425.25" y="826.50" width="4.40" height="48.70" fill="#fff" stroke="#2a2a2a" stroke-width="1"/>
<line x1="433.45" y1="837.10" x2="433.45" y2="827.50" stroke="#2a2a2a" stroke-width="1"/>
<line x1="431.95" y1="827.50" x2="434.95" y2="827.50" stroke="#2a2a2a" stroke-width="1"/>
<rect x="431.25" y="837.10" width="4.40" height="38.10" fill="#a9a9a9" stroke="#555" stroke-width="1"/>
<line x1="439.45" y1="828.50" x2="439.45" y2="823.70" stroke="#2a2a2a" stroke-width="1"/>
<line x1="437.95" y1="823.70" x2="440.95" y2="823.70" stroke="#2a2a2a" stroke-width="1"/>
<rect x="437.25" y="828.50" width="4.40" height="46.70" fill="#1c1c1c" stroke="#1c1c1c" stroke-width="1"/>
<line x1="448.94" y1="772.00" x2="448.94" y2="768.60" stroke="#2a2a2a" stroke-width="1"/>
<line x1="447.44" y1="768.60" x2="450.44" y2="768.60" stroke="#2a2a2a" stroke-width="1"/>
<rect x="446.74" y="772.00" width="4.40" height="103.20" fill="#fff" stroke="#2a2a2a" stroke-width="1"/>
<rect x="452.74" y="774.30" width="4.40" height="100.90" fill="#a9a9a9" stroke="#555" stroke-width="1"/>
<line x1="460.94" y1="772.90" x2="460.94" y2="771.20" stroke="#2a2a2a" stroke-width="1"/>
<line x1="459.44" y1="771.20" x2="462.44" y2="771.20" stroke="#2a2a2a" stroke-width="1"/>
<rect x="458.74" y="772.90" width="4.40" height="102.30" fill="#1c1c1c" stroke="#1c1c1c" stroke-width="1"/>
<rect x="468.23" y="772.50" width="4.40" height="102.70" fill="#fff" stroke="#2a2a2a" stroke-width="1"/>
<line x1="476.43" y1="777.20" x2="476.43" y2="774.60" stroke="#2a2a2a" stroke-width="1"/>
<line x1="474.93" y1="774.60" x2="477.93" y2="774.60" stroke="#2a2a2a" stroke-width="1"/>
<rect x="474.23" y="777.20" width="4.40" height="98.00" fill="#a9a9a9" stroke="#555" stroke-width="1"/>
<line x1="482.43" y1="774.30" x2="482.43" y2="771.50" stroke="#2a2a2a" stroke-width="1"/>
<line x1="480.93" y1="771.50" x2="483.93" y2="771.50" stroke="#2a2a2a" stroke-width="1"/>
<rect x="480.23" y="774.30" width="4.40" height="100.90" fill="#1c1c1c" stroke="#1c1c1c" stroke-width="1"/>
<line x1="363.70" y1="816.70" x2="375.20" y2="816.70" stroke="#777" stroke-width="1"/>
<circle cx="365.45" cy="810.80" r="1.05" fill="#2a2a2a"/>
<circle cx="369.45" cy="810.80" r="1.05" fill="#2a2a2a"/>
<circle cx="373.45" cy="810.80" r="1.05" fill="#2a2a2a"/>
<line x1="384.50" y1="769.20" x2="396.00" y2="769.20" stroke="#777" stroke-width="1"/>
<circle cx="386.25" cy="764.60" r="1.05" fill="#2a2a2a"/>
<circle cx="390.25" cy="764.60" r="1.05" fill="#2a2a2a"/>
<circle cx="394.25" cy="764.60" r="1.05" fill="#2a2a2a"/>
<line x1="406.50" y1="767.30" x2="418.00" y2="767.30" stroke="#777" stroke-width="1"/>
<circle cx="408.25" cy="763.50" r="1.05" fill="#2a2a2a"/>
<circle cx="412.25" cy="763.50" r="1.05" fill="#2a2a2a"/>
<circle cx="416.25" cy="763.50" r="1.05" fill="#2a2a2a"/>
<text id="dr0" x="331.12" y="889.30" font-size="12.4" text-anchor="end" transform="rotate(-45 331.12 889.30)">DMSO</text>
<text id="dr1" x="352.93" y="889.62" font-size="12.4" text-anchor="end" transform="rotate(-45 352.93 889.62)">0.001 µM</text>
<text id="dr2" x="375.38" y="890.10" font-size="12.4" text-anchor="end" transform="rotate(-45 375.38 890.10)">0.01 µM</text>
<text id="dr3" x="396.87" y="888.66" font-size="12.4" text-anchor="end" transform="rotate(-45 396.87 888.66)">0.1 µM</text>
<text id="dr4" x="418.84" y="888.66" font-size="12.4" text-anchor="end" transform="rotate(-45 418.84 888.66)">1 µM</text>
<text id="dr5" x="444.01" y="886.26" font-size="12.4" text-anchor="end" transform="rotate(-45 444.01 886.26)">1 µM + Q-VD-OPh</text>
<text id="dr6" x="463.90" y="887.70" font-size="12.4" text-anchor="end" transform="rotate(-45 463.90 887.70)">A23187 [1 µM]</text>
<text id="dr7" x="486.51" y="886.10" font-size="12.4" text-anchor="end" transform="rotate(-45 486.51 886.10)">A23187 [1 µM] + Q-VD-OPh</text>
</svg>
</body></html>
